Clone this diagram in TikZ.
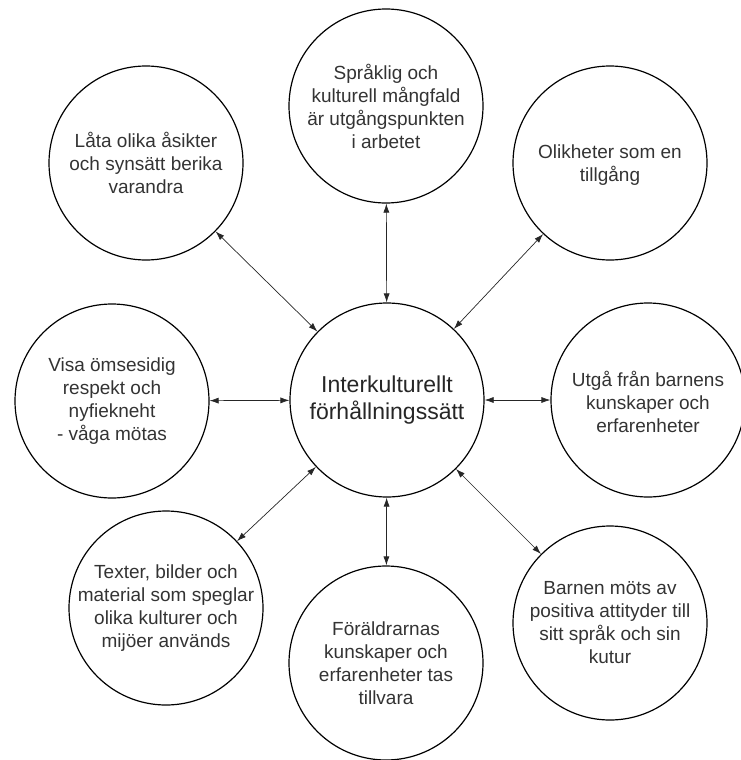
\documentclass[tikz,border=0pt]{standalone}
\usepackage{fontspec}
\setmainfont{Liberation Sans}
\usetikzlibrary{arrows.meta}
\begin{document}
\begin{tikzpicture}[x=1pt,y=-1pt,
  circ/.style={circle,draw=black,line width=1.2pt,minimum size=194pt,inner sep=0pt},
  txt/.style={align=center,text=black!80,font=\fontsize{19}{23}\selectfont,inner sep=0pt},
  ctxt/.style={align=center,text=black!85,font=\fontsize{23}{27}\selectfont,inner sep=0pt},
  conn/.style={{Latex[length=9pt,width=6pt]}-{Latex[length=9pt,width=6pt]},line width=0.7pt,draw=black!85}]
\useasboundingbox (0,0) rectangle (741,760);
% circles
\node[circ] (c)  at (387,400) {};
\node[circ] (t)  at (386,106) {};
\node[circ] (tr) at (610,163) {};
\node[circ] (tl) at (146,163) {};
\node[circ] (l)  at (112,401) {};
\node[circ] (r)  at (648,400) {};
\node[circ] (bl) at (166,608) {};
\node[circ] (b)  at (386,663) {};
\node[circ] (br) at (610,623) {};
% texts
\node[ctxt] (ct) at (c) {Interkulturellt\\förhållningssätt};
\node[txt] (tt) at (t) {Språklig och\\kulturell mångfald\\är utgångspunkten\\i arbetet};
\node[txt] (trt) at ([yshift=-2pt]tr) {Olikheter som en\\tillgång};
\node[txt] (tlt) at (tl) {Låta olika åsikter\\och synsätt berika\\varandra};
\node[txt] (lt) at (l) {Visa ömsesidig\\respekt och\\nyfiekneht\\- våga mötas};
\node[txt] (rt) at ([yshift=-2pt]r) {Utgå från barnens\\kunskaper och\\erfarenheter};
\node[txt] (blt) at (bl) {Texter, bilder och\\material som speglar\\olika kulturer och\\mijöer används};
\node[txt] (bt) at (b) {Föräldrarnas\\kunskaper och\\erfarenheter tas\\tillvara};
\node[txt] (brt) at (br) {Barnen möts av\\positiva attityder till\\sitt språk och sin\\kutur};
% connectors
\draw[conn] (c) -- (t);
\draw[conn] (c) -- (tr);
\draw[conn] (c) -- (tl);
\draw[conn] (c) -- (l);
\draw[conn] (c) -- (r);
\draw[conn] (c) -- (bl);
\draw[conn] (c) -- (b);
\draw[conn] (c) -- (br);
\end{tikzpicture}
\end{document}
